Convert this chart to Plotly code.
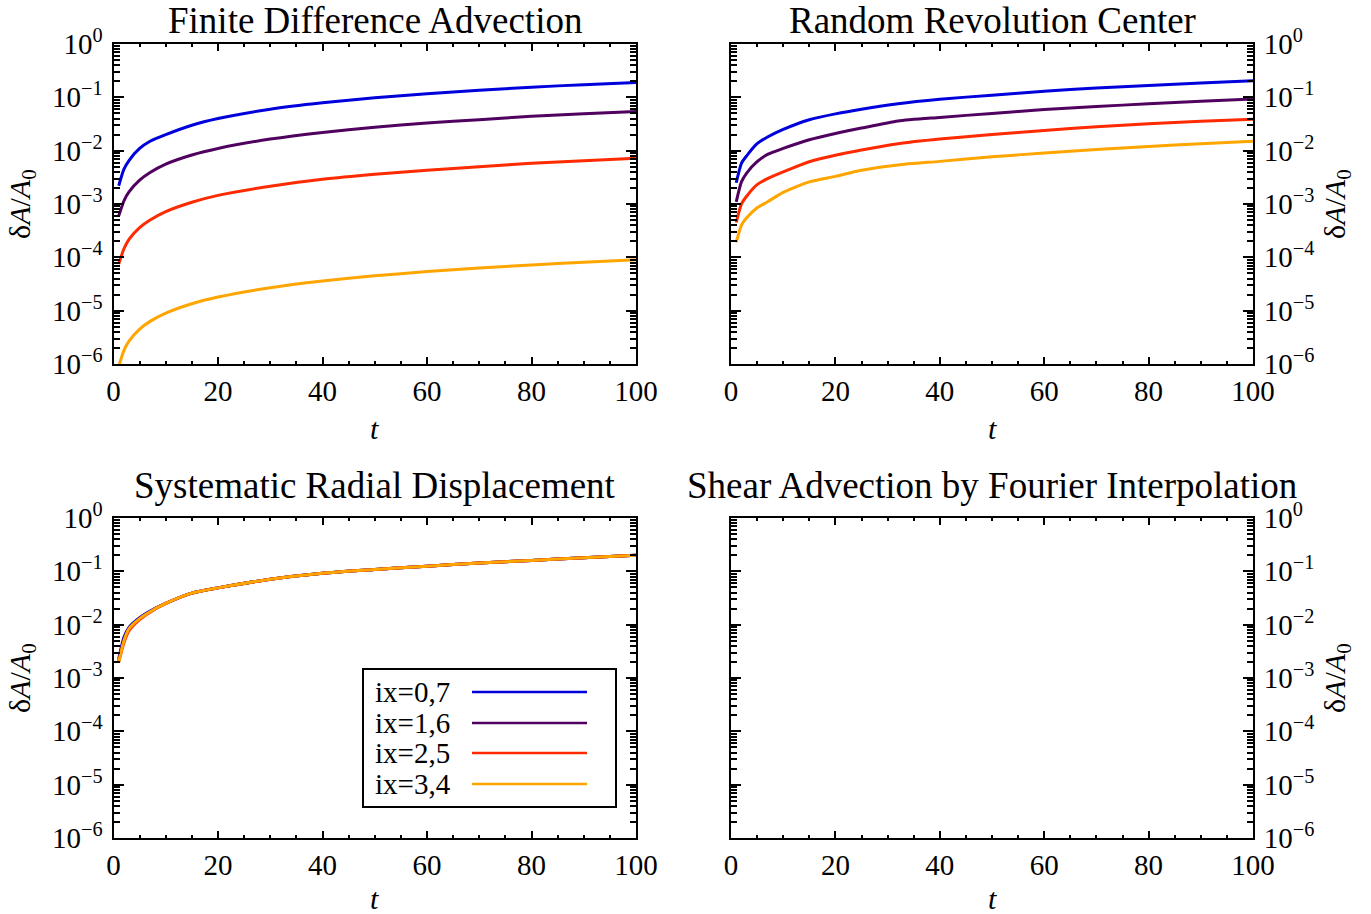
import plotly.graph_objects as go

# ---------------- data ----------------
t_fd = [1, 2, 3, 5, 7, 10, 15, 20, 30, 40, 50, 60, 70, 80, 90, 100]
fd_ix07 = [2.2e-3, 4.5e-3, 6.6e-3, 1.1e-2, 1.5e-2, 2.0e-2, 3.0e-2, 4.0e-2, 6.0e-2, 7.9e-2, 0.098, 0.117, 0.136, 0.155, 0.173, 0.19]
fd_ix16 = [6.0e-4, 1.15e-3, 1.7e-3, 2.8e-3, 3.9e-3, 5.6e-3, 8.3e-3, 1.1e-2, 1.65e-2, 2.2e-2, 2.75e-2, 3.3e-2, 3.8e-2, 4.4e-2, 4.9e-2, 5.4e-2]
fd_ix25 = [7.5e-5, 1.45e-4, 2.2e-4, 3.6e-4, 5.0e-4, 7.2e-4, 1.08e-3, 1.45e-3, 2.15e-3, 2.9e-3, 3.6e-3, 4.3e-3, 5.0e-3, 5.8e-3, 6.5e-3, 7.2e-3]
fd_ix34 = [9.0e-7, 1.8e-6, 2.7e-6, 4.5e-6, 6.3e-6, 9.0e-6, 1.35e-5, 1.8e-5, 2.7e-5, 3.6e-5, 4.5e-5, 5.4e-5, 6.3e-5, 7.2e-5, 8.1e-5, 9.0e-5]

t_rrc = [1, 2, 3, 5, 7, 10, 15, 20, 25, 32, 40, 50, 60, 70, 80, 90, 100]
rrc_ix07 = [2.5e-3, 5.8e-3, 8.0e-3, 1.35e-2, 1.8e-2, 2.5e-2, 3.8e-2, 4.9e-2, 6.0e-2, 7.6e-2, 9.2e-2, 0.11, 0.13, 0.15, 0.166, 0.185, 0.205]
rrc_ix16 = [1.1e-3, 2.6e-3, 3.8e-3, 6.2e-3, 8.5e-3, 1.1e-2, 1.6e-2, 2.1e-2, 2.65e-2, 3.6e-2, 4.2e-2, 5.0e-2, 5.9e-2, 6.7e-2, 7.6e-2, 8.4e-2, 9.3e-2]
rrc_ix25 = [4.5e-4, 1.0e-3, 1.4e-3, 2.3e-3, 3.0e-3, 4.0e-3, 6.2e-3, 8.2e-3, 1.03e-2, 1.35e-2, 1.65e-2, 2.0e-2, 2.4e-2, 2.8e-2, 3.2e-2, 3.55e-2, 3.9e-2]
rrc_ix34 = [1.9e-4, 4.0e-4, 5.5e-4, 8.5e-4, 1.1e-3, 1.65e-3, 2.6e-3, 3.3e-3, 4.3e-3, 5.4e-3, 6.3e-3, 7.7e-3, 9.0e-3, 1.05e-2, 1.2e-2, 1.35e-2, 1.5e-2]

t_srd = [1, 2, 3, 5, 7, 10, 15, 20, 30, 40, 50, 60, 70, 80, 90, 100]
srd_ix07 = [2.3e-3, 5.8e-3, 9.0e-3, 1.35e-2, 1.8e-2, 2.5e-2, 3.9e-2, 4.9e-2, 7.1e-2, 9.2e-2, 0.108, 0.125, 0.143, 0.16, 0.18, 0.2]
srd_ix16 = [2.1e-3, 5.3e-3, 8.6e-3, 1.3e-2, 1.75e-2, 2.5e-2, 3.9e-2, 4.9e-2, 7.1e-2, 9.2e-2, 0.108, 0.125, 0.143, 0.16, 0.18, 0.2]
srd_ix25 = [2.0e-3, 4.6e-3, 7.8e-3, 1.25e-2, 1.72e-2, 2.5e-2, 3.9e-2, 4.9e-2, 7.1e-2, 9.2e-2, 0.108, 0.125, 0.143, 0.16, 0.18, 0.2]
srd_ix34 = [2.0e-3, 5.0e-3, 8.5e-3, 1.3e-2, 1.75e-2, 2.5e-2, 3.9e-2, 4.9e-2, 7.1e-2, 9.2e-2, 0.108, 0.125, 0.143, 0.16, 0.18, 0.2]

series_labels = ["ix=0,7", "ix=1,6", "ix=2,5", "ix=3,4"]
series_colors = ["#0000DC", "#50005F", "#FF2A00", "#FFA500"]

panel_titles = ["Finite Difference Advection", "Random Revolution Center",
                "Systematic Radial Displacement", "Shear Advection by Fourier Interpolation"]

y_tick_vals = [1e-6, 1e-5, 1e-4, 1e-3, 1e-2, 1e-1, 1e0]
y_tick_text = ["10<sup>−6</sup>", "10<sup>−5</sup>", "10<sup>−4</sup>", "10<sup>−3</sup>",
               "10<sup>−2</sup>", "10<sup>−1</sup>", "10<sup>0</sup>"]
x_tick_vals = [0, 20, 40, 60, 80, 100]
x_label = "<i>t</i>"
y_label = "δ<i>A</i>/<i>A</i><sub>0</sub>"

# ---------------- layout geometry ----------------
W, H = 1371, 914
FONT = "Liberation Serif"
XL = [113.5 / W, 636 / W]
XR = [731 / W, 1253 / W]
YT = [1 - 364 / H, 1 - 44 / H]
YB = [1 - 838 / H, 1 - 518 / H]

fig = go.Figure()

panels = [
    (t_fd, [fd_ix07, fd_ix16, fd_ix25, fd_ix34], "x", "y"),
    (t_rrc, [rrc_ix07, rrc_ix16, rrc_ix25, rrc_ix34], "x2", "y2"),
    (t_srd, [srd_ix07, srd_ix16, srd_ix25, srd_ix34], "x3", "y3"),
]
for tt, ys, xa, ya in panels:
    for lab, col, yy in zip(series_labels, series_colors, ys):
        fig.add_trace(go.Scatter(x=tt, y=yy, mode="lines", name=lab, xaxis=xa, yaxis=ya,
                                 line=dict(color=col, width=3, shape="spline", smoothing=0.6),
                                 showlegend=False))
fig.add_trace(go.Scatter(x=[], y=[], xaxis="x4", yaxis="y4", showlegend=False))

minor_y = [m * 10.0 ** e for e in range(-6, 0) for m in range(2, 10)]


def xaxis(domain, anchor):
    return dict(domain=domain, anchor=anchor, range=[0, 100], tickmode="array", tickvals=x_tick_vals,
                ticks="inside", ticklen=7, tickwidth=2, tickcolor="black",
                showline=True, linecolor="black", linewidth=2, mirror="allticks",
                showgrid=False, zeroline=False, ticklabelstandoff=0, automargin=False,
                tickfont=dict(family=FONT, size=29, color="black"),
                minor=dict(dtick=5, tick0=0, ticks="inside", ticklen=3, tickwidth=1.5, tickcolor="black",
                           showgrid=False))


def yaxis(domain, anchor, side):
    return dict(domain=domain, anchor=anchor, type="log", range=[-6, 0], side=side,
                tickmode="array", tickvals=y_tick_vals, ticktext=y_tick_text,
                ticks="inside", ticklen=10, tickwidth=2, tickcolor="black",
                showline=True, linecolor="black", linewidth=2, mirror="allticks",
                showgrid=False, zeroline=False, ticklabelstandoff=3, automargin=False,
                tickfont=dict(family=FONT, size=29, color="black"),
                minor=dict(tickmode="array", tickvals=minor_y, ticks="inside", ticklen=6, tickwidth=1.5,
                           tickcolor="black", showgrid=False))


fig.update_layout(
    template="none",
    width=W, height=H, autosize=False,
    margin=dict(l=0, r=0, t=0, b=0, pad=0, autoexpand=False),
    paper_bgcolor="white", plot_bgcolor="white",
    font=dict(family=FONT, color="black"),
    showlegend=False,
    xaxis=xaxis(XL, "y"), yaxis=yaxis(YT, "x", "left"),
    xaxis2=xaxis(XR, "y2"), yaxis2=yaxis(YT, "x2", "right"),
    xaxis3=xaxis(XL, "y3"), yaxis3=yaxis(YB, "x3", "left"),
    xaxis4=xaxis(XR, "y4"), yaxis4=yaxis(YB, "x4", "right"),
)

ann = []
centers_x = [(XL[0] + XL[1]) / 2, (XR[0] + XR[1]) / 2]
title_y = [1 - 21 / H, 1 - 486 / H]
tlabel_y = [1 - 428 / H, 1 - 898 / H]
ylabel_y = [(YT[0] + YT[1]) / 2, (YB[0] + YB[1]) / 2]
ylabel_x = [22 / W, 1337 / W]
for i, title in enumerate(panel_titles):
    col, row = i % 2, i // 2
    ann.append(dict(text=title, x=centers_x[col], y=title_y[row], xref="paper", yref="paper",
                    showarrow=False, xanchor="center", yanchor="middle",
                    font=dict(family=FONT, size=37, color="black")))
    ann.append(dict(text=x_label, x=centers_x[col], y=tlabel_y[row], xref="paper", yref="paper",
                    showarrow=False, xanchor="center", yanchor="middle",
                    font=dict(family=FONT, size=30, color="black")))
    ann.append(dict(text=y_label, x=ylabel_x[col], y=ylabel_y[row], xref="paper", yref="paper",
                    showarrow=False, xanchor="center", yanchor="middle", textangle=-90,
                    font=dict(family=FONT, size=30, color="black")))

# custom legend box (label left, line sample right) in bottom-left panel
shapes = [dict(type="rect", xref="paper", yref="paper", x0=363 / W, x1=616 / W,
               y0=1 - 807 / H, y1=1 - 669 / H, line=dict(color="black", width=2),
               fillcolor="white", layer="above")]
entry_y = [692, 723, 753, 784]
for lab, col, ey in zip(series_labels, series_colors, entry_y):
    ann.append(dict(text=lab, x=373 / W, y=1 - ey / H, xref="paper", yref="paper", showarrow=False,
                    xanchor="left", yanchor="middle", font=dict(family=FONT, size=29, color="black")))
    shapes.append(dict(type="line", xref="paper", yref="paper", x0=472 / W, x1=587 / W,
                       y0=1 - ey / H, y1=1 - ey / H, line=dict(color=col, width=2.5), layer="above"))

fig.update_layout(annotations=ann, shapes=shapes)
fig.write_html("out.html")
